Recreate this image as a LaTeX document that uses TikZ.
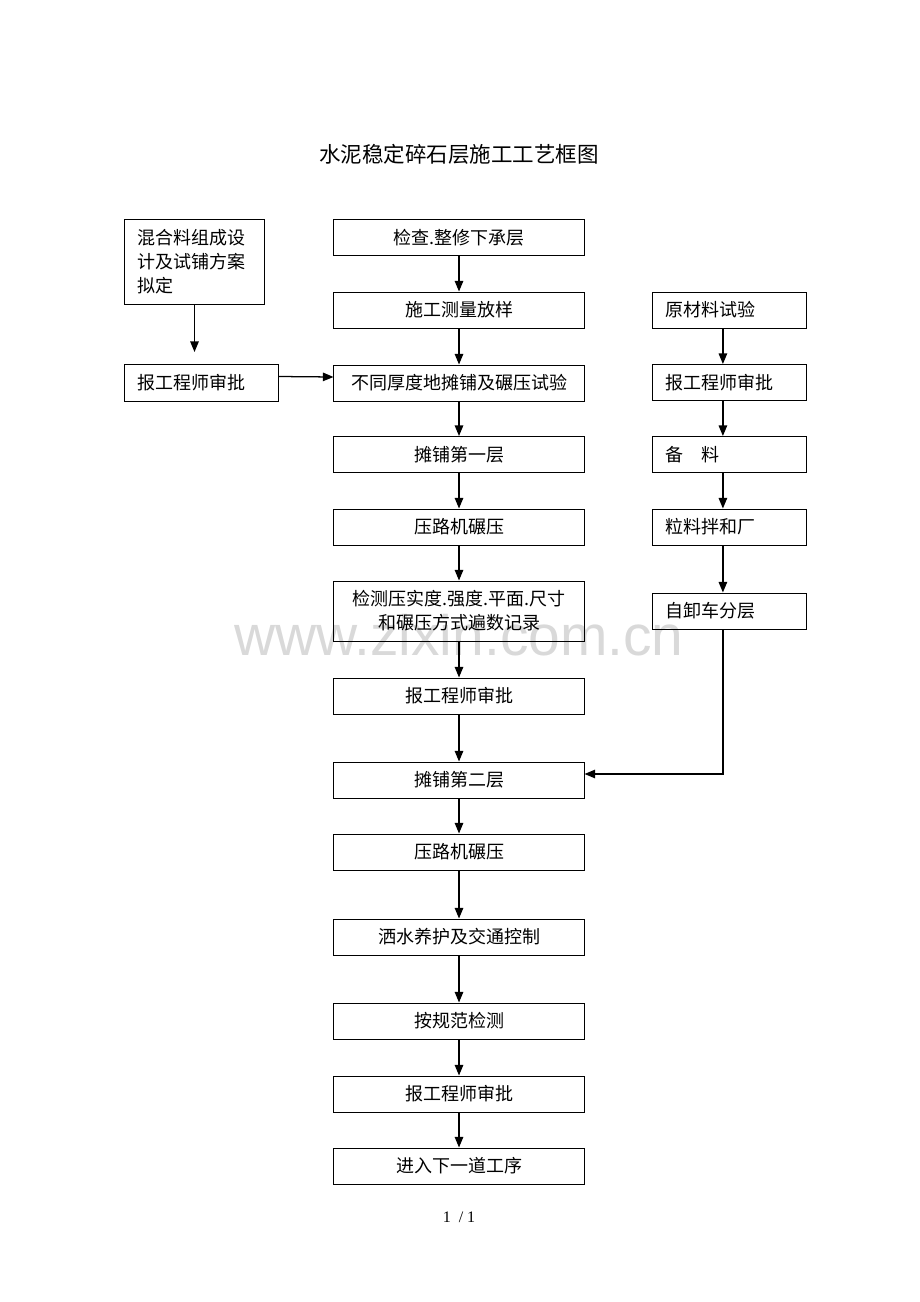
\documentclass[tikz,border=0pt]{standalone}
\usepackage{fontspec}
\setmainfont{Liberation Serif}
\newfontfamily\cjk{Noto Sans CJK SC}
\newfontfamily\marksans{Liberation Sans}
\usetikzlibrary{arrows.meta}

\tikzset{
  flowbox/.style={draw, line width=0.7pt, minimum width=6.25cm, minimum height=0.9cm,
    inner sep=0pt, align=center, font=\cjk\fontsize{12.8}{17}\selectfont},
  sidebox/.style={draw, line width=0.7pt, minimum height=0.9cm, inner xsep=0.325cm,
    inner ysep=0pt, text width=3.175cm, align=left, font=\cjk\fontsize{12.8}{17}\selectfont},
  flowarrow/.style={-{Triangle[length=7.5pt,width=6pt]}, line width=0.9pt},
}

\begin{document}
\begin{tikzpicture}[x=0.025cm, y=-0.025cm]
  \useasboundingbox (0,0) rectangle (920,1302);

  % watermark
  \node (mark) at (459,655) [anchor=base, text=black!15, font=\marksans\fontsize{40.5}{40.5}\selectfont] {www.zixin.com.cn};

  % title
  \node (title) at (459,154) [font=\cjk\fontsize{15.3}{18}\selectfont] {水泥稳定碎石层施工工艺框图};

  % main column
  \node (check)  at (459,237.5) [flowbox] {检查.整修下承层};
  \node (survey) at (459,310)   [flowbox] {施工测量放样};
  \node (trial)  at (459,383)   [flowbox] {不同厚度地摊铺及碾压试验};
  \node (lay1)   at (459,454.5) [flowbox] {摊铺第一层};
  \node (roll1)  at (459,527)   [flowbox] {压路机碾压};
  \node (test)   at (459,611)   [flowbox, minimum height=1.5cm] {检测压实度.强度.平面.尺寸\\和碾压方式遍数记录};
  \node (app1)   at (459,696)   [flowbox] {报工程师审批};
  \node (lay2)   at (459,780)   [flowbox] {摊铺第二层};
  \node (roll2)  at (459,852)   [flowbox] {压路机碾压};
  \node (cure)   at (459,937)   [flowbox] {洒水养护及交通控制};
  \node (insp)   at (459,1021)  [flowbox] {按规范检测};
  \node (app2)   at (459,1094)  [flowbox] {报工程师审批};
  \node (next)   at (459,1166)  [flowbox] {进入下一道工序};

  \foreach \a/\b in {check/survey, survey/trial, trial/lay1, lay1/roll1, roll1/test,
      test/app1, app1/lay2, lay2/roll2, roll2/cure, cure/insp, insp/app2, app2/next}
    \draw[flowarrow] (\a.south) -- (\b.north);

  % left side: mix design
  \node (mixdes) at (194.5,262) [sidebox, text width=2.825cm, minimum height=2.1cm] {混合料组成设\\计及试铺方案\\拟定};
  \node (lapp)   at (201.5,382.5) [sidebox, minimum height=0.925cm] {报工程师审批};
  \coordinate (mixend) at (194.5,352);
  \draw[flowarrow] (mixdes.south) -- (mixend);
  \draw[flowarrow] ([yshift=0.15cm]lapp.east) -- ([yshift=0.15cm]trial.west);

  % right side: materials
  \node (rmat)  at (729.5,310)   [sidebox] {原材料试验};
  \node (rapp)  at (729.5,382.5) [sidebox] {报工程师审批};
  \node (stock) at (729.5,454.5) [sidebox] {备\quad 料};
  \node (mix)   at (729.5,527)   [sidebox] {粒料拌和厂};
  \node (dump)  at (729.5,611)   [sidebox] {自卸车分层};

  \foreach \a/\b in {rmat/rapp, rapp/stock, stock/mix, mix/dump}
    \draw[flowarrow] ([xshift=-0.165cm]\a.south) -- ([xshift=-0.165cm]\b.north);
  \draw[flowarrow] ([xshift=-0.165cm]dump.south) |- ([yshift=0.15cm]lay2.east);

  % page number
  \node (page) at (459,1217) [font=\fontsize{11.4}{13}\selectfont] {1 \ / 1};
\end{tikzpicture}
\end{document}
